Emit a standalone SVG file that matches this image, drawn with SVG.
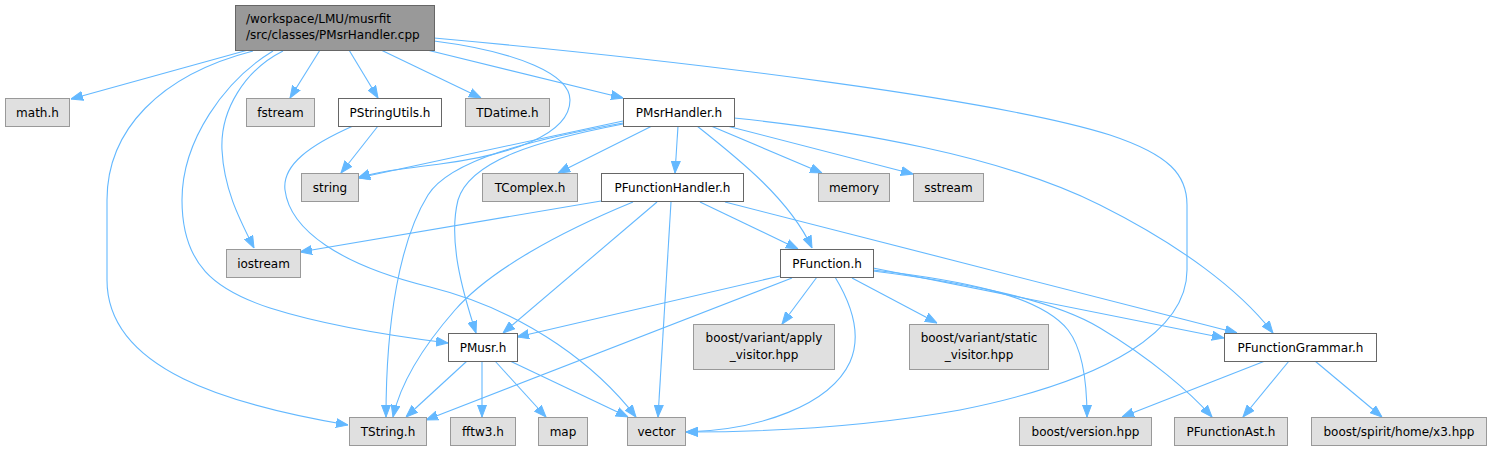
<svg xmlns="http://www.w3.org/2000/svg" width="1492" height="451" viewBox="0 0 1492 451">
<defs>
<style>
.e{fill:none;stroke:#63b8ff;stroke-width:1.1;marker-end:url(#ah)}
.g rect{fill:#e0e0e0;stroke:#999999;stroke-width:1}
.w rect{fill:#ffffff;stroke:#666666;stroke-width:1}
.r rect{fill:#999999;stroke:#666666;stroke-width:1}
text{font-family:"DejaVu Sans","Liberation Sans",sans-serif;font-size:12px;fill:#000000}
.c{text-anchor:middle}
</style>
<marker id="ah" markerWidth="12" markerHeight="10" refX="12" refY="5" orient="auto" markerUnits="userSpaceOnUse">
<path d="M0,0.5 L12,5 L0,9.5 z" fill="#63b8ff" stroke="#63b8ff" stroke-width="1"/>
</marker>
</defs>
<rect width="1492" height="451" fill="#ffffff"/>
<g id="edges">
<path class="e" d="M248,50 L71,99"/>
<path class="e" d="M320,50 L290,98"/>
<path class="e" d="M349,50 L378,98"/>
<path class="e" d="M381,50 L481,98"/>
<path class="e" d="M427,50 L623,98"/>
<path class="e" d="M283,51 C245,70 220,110 222,150 C224,190 240,220 254,248"/>
<path class="e" d="M253,51 C160,75 107,130 107,200 L107,280 C107,370 230,405 348,425"/>
<path class="e" d="M273,51 C225,80 182,140 182,200 C182,265 215,290 270,308 C330,327 400,337 448,343"/>
<path class="e" d="M434,41 C520,52 570,75 570,100 C570,135 510,155 440,164 C400,169 375,172 358,178"/>
<path class="e" d="M434,38 C700,62 1000,100 1110,135 C1170,155 1187,175 1187,205 L1187,270 C1187,330 1110,380 960,410 C860,428 760,432 686,432"/>
<path class="e" d="M378,126 L341,173"/>
<path class="e" d="M353,126 C310,145 282,165 285,190 C290,230 340,265 430,287 C530,312 600,370 636,417"/>
<path class="e" d="M623,121 L358,178"/>
<path class="e" d="M652,126 L558,173"/>
<path class="e" d="M678,126 L675,173"/>
<path class="e" d="M711,126 L822,173"/>
<path class="e" d="M727,126 L913,174"/>
<path class="e" d="M697,126 C740,160 790,200 812,248"/>
<path class="e" d="M734,118 C850,130 1000,155 1100,205 C1180,245 1240,290 1273,333"/>
<path class="e" d="M623,123 C530,140 450,160 428,195 C400,240 386,320 386,417"/>
<path class="e" d="M623,124 C540,140 470,160 458,200 C448,240 462,290 476,333"/>
<path class="e" d="M601,201 L300,252"/>
<path class="e" d="M633,202 C560,232 490,270 455,310 C420,350 400,385 393,417"/>
<path class="e" d="M657,202 L503,333"/>
<path class="e" d="M671,202 L658,417"/>
<path class="e" d="M700,202 L798,249"/>
<path class="e" d="M725,202 L1237,333"/>
<path class="e" d="M780,276 L517,337"/>
<path class="e" d="M792,278 L426,420"/>
<path class="e" d="M817,277 L782,324"/>
<path class="e" d="M835,277 C852,305 862,335 850,362 C830,405 760,430 686,432"/>
<path class="e" d="M852,278 L937,323"/>
<path class="e" d="M873,268 L1224,338"/>
<path class="e" d="M873,270 C960,280 1040,295 1068,330 C1085,352 1087,390 1087,417"/>
<path class="e" d="M873,271 C960,282 1050,298 1100,328 C1150,358 1190,392 1212,417"/>
<path class="e" d="M467,361 L406,417"/>
<path class="e" d="M482,361 L482,417"/>
<path class="e" d="M495,361 L546,417"/>
<path class="e" d="M510,361 L628,417"/>
<path class="e" d="M1265,361 L1122,417"/>
<path class="e" d="M1289,361 L1243,417"/>
<path class="e" d="M1315,361 L1382,417"/>
</g>
<g id="root" class="r"><rect x="235.5" y="5.5" width="199" height="45"/><text x="246" y="22.5">/workspace/LMU/musrfit</text><text x="246" y="39">/src/classes/PMsrHandler.cpp</text></g>
<g id="math_h" class="g"><rect x="5.5" y="98.5" width="64" height="28"/><text class="c" x="37.5" y="117">math.h</text></g>
<g id="fstream" class="g"><rect x="246.5" y="98.5" width="68" height="28"/><text class="c" x="280.5" y="117">fstream</text></g>
<g id="PStringUtils_h" class="w"><rect x="338.5" y="98.5" width="103" height="28"/><text class="c" x="390" y="117">PStringUtils.h</text></g>
<g id="TDatime_h" class="g"><rect x="465.5" y="98.5" width="84" height="28"/><text class="c" x="507.5" y="117">TDatime.h</text></g>
<g id="PMsrHandler_h" class="w"><rect x="623.5" y="98.5" width="111" height="28"/><text class="c" x="679" y="117">PMsrHandler.h</text></g>
<g id="string" class="g"><rect x="301.5" y="173.5" width="57" height="28"/><text class="c" x="330" y="192">string</text></g>
<g id="TComplex_h" class="g"><rect x="482.5" y="173.5" width="95" height="28"/><text class="c" x="530" y="192">TComplex.h</text></g>
<g id="PFunctionHandler_h" class="w"><rect x="601.5" y="173.5" width="142" height="28"/><text class="c" x="672.5" y="192">PFunctionHandler.h</text></g>
<g id="memory" class="g"><rect x="818.5" y="173.5" width="71" height="28"/><text class="c" x="854" y="192">memory</text></g>
<g id="sstream" class="g"><rect x="913.5" y="173.5" width="70" height="28"/><text class="c" x="948.5" y="192">sstream</text></g>
<g id="iostream" class="g"><rect x="226.5" y="249.5" width="74" height="28"/><text class="c" x="263.5" y="268">iostream</text></g>
<g id="PFunction_h" class="w"><rect x="780.5" y="249.5" width="93" height="28"/><text class="c" x="827" y="268">PFunction.h</text></g>
<g id="PMusr_h" class="w"><rect x="448.5" y="333.5" width="69" height="28"/><text class="c" x="483" y="352">PMusr.h</text></g>
<g id="apply_visitor" class="g"><rect x="693.5" y="324.5" width="141" height="45"/><text class="c" x="764" y="342">boost/variant/apply</text><text class="c" x="764" y="358.5">_visitor.hpp</text></g>
<g id="static_visitor" class="g"><rect x="909.5" y="324.5" width="139" height="45"/><text class="c" x="979" y="342">boost/variant/static</text><text class="c" x="979" y="358.5">_visitor.hpp</text></g>
<g id="PFunctionGrammar_h" class="w"><rect x="1224.5" y="333.5" width="152" height="28"/><text class="c" x="1300.5" y="352">PFunctionGrammar.h</text></g>
<g id="TString_h" class="g"><rect x="349.5" y="417.5" width="77" height="28"/><text class="c" x="388" y="436">TString.h</text></g>
<g id="fftw3_h" class="g"><rect x="450.5" y="417.5" width="65" height="28"/><text class="c" x="483" y="436">fftw3.h</text></g>
<g id="map" class="g"><rect x="538.5" y="417.5" width="49" height="28"/><text class="c" x="563" y="436">map</text></g>
<g id="vector" class="g"><rect x="627.5" y="417.5" width="58" height="28"/><text class="c" x="656.5" y="436">vector</text></g>
<g id="boost_version" class="g"><rect x="1019.5" y="417.5" width="132" height="28"/><text class="c" x="1085.5" y="436">boost/version.hpp</text></g>
<g id="PFunctionAst_h" class="g"><rect x="1174.5" y="417.5" width="113" height="28"/><text class="c" x="1231" y="436">PFunctionAst.h</text></g>
<g id="x3_hpp" class="g"><rect x="1311.5" y="417.5" width="175" height="28"/><text class="c" x="1399" y="436">boost/spirit/home/x3.hpp</text></g>
</svg>
